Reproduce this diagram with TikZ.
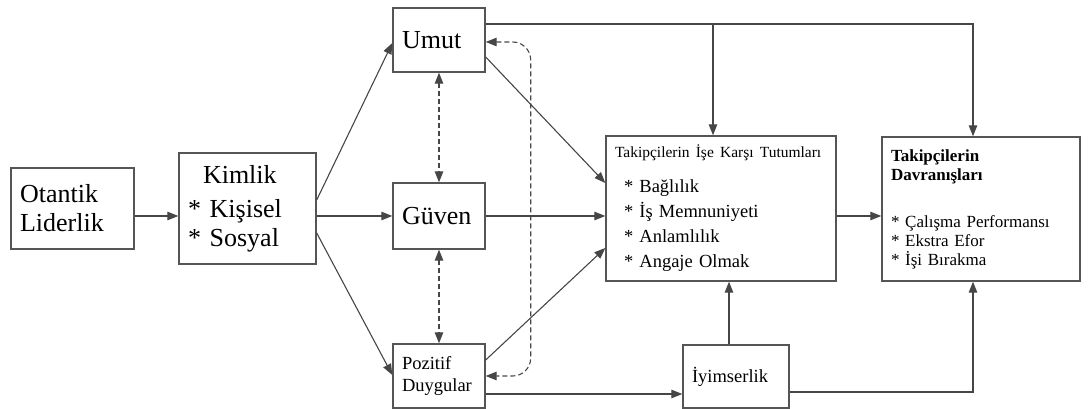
\documentclass[tikz,border=0pt]{standalone}
\usepackage{fontspec}
\setmainfont{Liberation Serif}
\usetikzlibrary{arrows.meta,calc}
\definecolor{cline}{RGB}{70,70,70}
\definecolor{cbox}{RGB}{85,85,85}

\begin{document}
\begin{tikzpicture}[x=1pt, y=1pt,
    >={Triangle[length=11pt,width=8.5pt]},
    box/.style={draw=cbox, line width=1.4pt, inner xsep=9pt, inner ysep=0pt, align=left},
    link/.style={->, draw=cline, line width=1.1pt},
    dlink/.style={<->, draw=cline, line width=1.1pt, dash pattern=on 5pt off 3pt},
    big/.style={font=\fontsize{26}{29}\selectfont},
    mid/.style={font=\fontsize{18.5}{22}\selectfont},
  ]
  \useasboundingbox (0,0) rectangle (1088,409);

  % Otantik liderlik
  \node[box, big, text width=105pt, minimum height=81pt] (lider) at (72.5,200.5) {
    Otantik\\Liderlik
  };
  % Kimlik
  \node[box, big, text width=119pt, minimum height=111pt] (kimlik) at (247.5,200.5) {
    \hspace*{15pt}Kimlik\\[5pt]
    {*} Kişisel\\
    {*} Sosyal
  };
  % Umut, Guven, Pozitif duygular
  \node[box, big, text width=74pt, minimum height=64pt] (umut) at (439,369) {Umut};
  \node[box, big, text width=74pt, minimum height=66pt] (guven) at (439,193) {Güven};
  \node[box, mid, text width=74pt, minimum height=64pt] (pozitif) at (439,33) {
    Pozitif\\Duygular
  };
  % Iyimserlik
  \node[box, mid, text width=88pt, minimum height=63pt] (iyimser) at (736,32.5) {İyimserlik};
  % Tutumlar
  \node[box, font=\fontsize{18.5}{25}\selectfont, text width=212pt, minimum height=145pt] (tutum) at (721,200.5) {
    {\fontsize{15.5}{20}\selectfont Takipçilerin İşe Karşı Tutumları}\\[10pt]
    \hspace*{9pt}{*} Bağlılık\\
    \hspace*{9pt}{*} İş Memnuniyeti\\
    \hspace*{9pt}{*} Anlamlılık\\
    \hspace*{9pt}{*} Angaje Olmak
  };
  % Davranislar
  \node[box, font=\fontsize{17}{19}\selectfont, text width=180pt, minimum height=144pt] (davran) at (981,200) {
    \textbf{Takipçilerin}\\
    \textbf{Davranışları}\\[28pt]
    {*} Çalışma Performansı\\
    {*} Ekstra Efor\\
    {*} İşi Bırakma
  };

  % helper points
  \coordinate (top) at ($(umut.east)+(0,16)$);
  \coordinate (tt) at ($(tutum.north)+(-8,0)$);
  \coordinate (it) at ($(iyimser.north)+(-7,0)$);
  \coordinate (pi) at ($(pozitif.east)+(0,-18)$);

  % solid arrows
  \draw[link] (lider.east |- guven.west) -- (kimlik.west |- guven.west);
  \draw[link] ($(kimlik.east)+(0,8.5)$) -- ($(umut.west)+(0,-3)$);
  \draw[link] (kimlik.east |- guven.west) -- (guven.west);
  \draw[link] ($(kimlik.east)+(0,-24.5)$) -- ($(pozitif.west)+(0,1)$);
  \draw[link] ($(umut.east)+(0,-17)$) -- ($(tutum.west)+(0,25.5)$);
  \draw[link] (guven.east) -- (tutum.west |- guven.east);
  \draw[link] ($(pozitif.east)+(0,16)$) -- ($(tutum.west)+(0,-39.5)$);
  \draw[link] (tutum.east |- guven.east) -- (davran.west |- guven.east);
  \draw[link] (top) -| ($(davran.north)+(-8,0)$);
  \draw[link] (tt |- top) -- (tt);
  \draw[link] (it) -- (it |- tutum.south);
  \draw[link] ($(iyimser.east)+(0,-15.5)$) -| ($(davran.south)+(-8,0)$);
  \draw[link] (pi) -- (iyimser.west |- pi);

  % dashed arrows
  \draw[dlink] (umut.south) -- (guven.north);
  \draw[dlink] (guven.south) -- (pozitif.north);
  \draw[dlink, rounded corners=18pt] ($(umut.east)+(0,-2)$) -| ($(pozitif.east)+(45,0)$) -- (pozitif.east);
\end{tikzpicture}
\end{document}
